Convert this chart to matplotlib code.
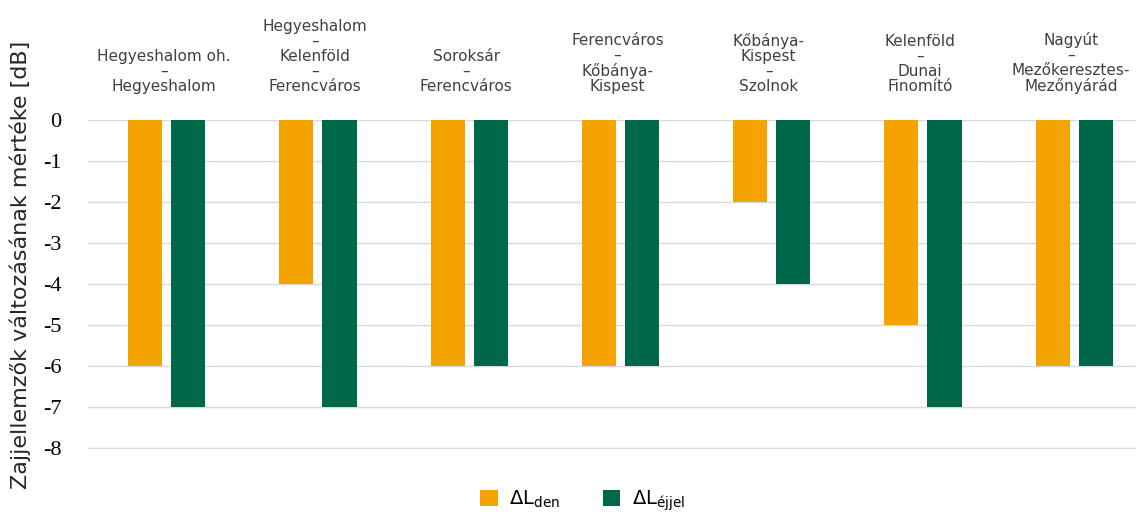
import matplotlib
matplotlib.use("Agg")
import matplotlib.pyplot as plt
from matplotlib.transforms import blended_transform_factory
import numpy as np

# data
categories = ["Hegyeshalom oh.\n–\nHegyeshalom",
              "Hegyeshalom\n–\nKelenföld\n–\nFerencváros",
              "Soroksár\n–\nFerencváros",
              "Ferencváros\n–\nKőbánya-\nKispest",
              "Kőbánya-\nKispest\n–\nSzolnok",
              "Kelenföld\n–\nDunai\nFinomító",
              "Nagyút\n–\nMezőkeresztes-\nMezőnyárád"]
delta_den = [-6, -4, -6, -6, -2, -5, -6]
delta_ejjel = [-7, -7, -6, -6, -4, -7, -6]
y_ticks = [0, -1, -2, -3, -4, -5, -6, -7, -8]

plt.rcParams['mathtext.fontset'] = 'dejavusans'

fig = plt.figure(figsize=(11.36, 5.16), dpi=100)
ax = fig.add_axes([0.0775, 0.1298, 0.932, 0.6376])

x = np.arange(len(categories))
w = 0.225
off = 0.1425
ax.bar(x - off + 0.02, delta_den, w, color='#F5A300', label=r'$\Delta\mathrm{L}_{\mathrm{den}}$', zorder=2)
ax.bar(x + off + 0.02, delta_ejjel, w, color='#00684A', label=r'$\Delta\mathrm{L}_{\mathrm{éjjel}}$', zorder=2)

ax.set_xlim(-0.5, len(categories) - 0.5)
ax.set_ylim(-8.02, 0)
ax.set_yticks(y_ticks)
ax.set_yticklabels([str(t) for t in y_ticks], family='Liberation Serif', fontsize=16)
ax.tick_params(axis='y', length=0, pad=19)
ax.set_xticks([])
ax.grid(axis='y', color='#d9d9d9', lw=1, zorder=0)
for s in ax.spines.values():
    s.set_visible(False)

trans = blended_transform_factory(ax.transData, ax.transAxes)
for i, lab in enumerate(categories):
    ax.text(x[i], 1.08, lab, transform=trans, ha='center', va='bottom',
            fontsize=11, color='#404040', linespacing=1.0)

fig.text(0.018, 0.486, 'Zajjellemzők változásának mértéke [dB]', rotation=90,
         ha='center', va='center', fontsize=16, color='#262626')

fig.legend(loc='center', bbox_to_anchor=(0.513, 0.03), ncol=2, frameon=False,
           fontsize=14, handlelength=0.9, handleheight=0.9, columnspacing=2.2,
           handletextpad=0.6)

fig.savefig('out.png', dpi=100)
